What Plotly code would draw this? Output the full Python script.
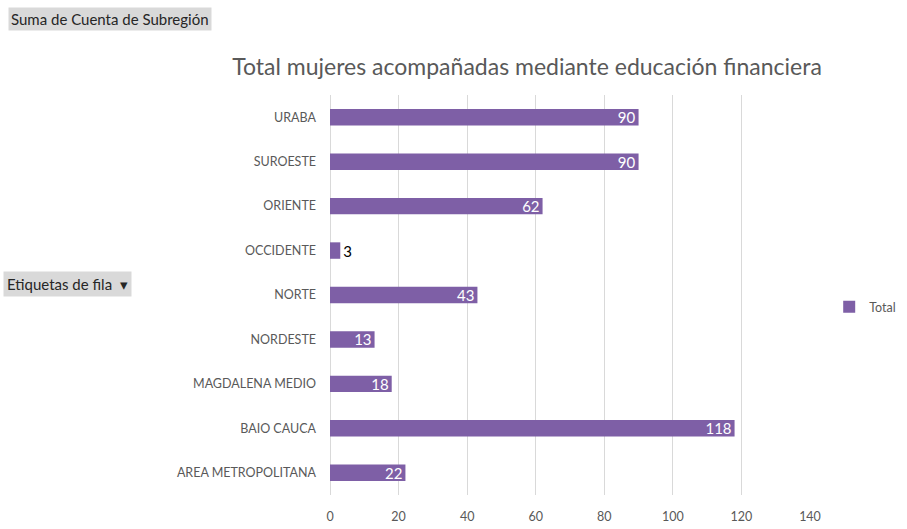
import plotly.graph_objects as go

categories = ["AREA METROPOLITANA", "BAIO CAUCA", "MAGDALENA MEDIO", "NORDESTE",
              "NORTE", "OCCIDENTE", "ORIENTE", "SUROESTE", "URABA"]
values = [22, 118, 18, 13, 43, 3, 62, 90, 90]
x_ticks = [0, 20, 40, 60, 80, 100, 120, 140]

bar_color = "#7E5FA6"
text_pos = ["outside" if v < 8 else "inside" for v in values]

fig = go.Figure()
fig.add_trace(go.Bar(
    y=categories, x=values, orientation="h", name="Total",
    marker=dict(color=bar_color, line=dict(width=0)),
    width=0.37,
    text=[str(v) for v in values],
    textposition=text_pos,
    textangle=0,
    insidetextanchor="end",
    insidetextfont=dict(color="white", size=15, family="Lato"),
    outsidetextfont=dict(color="black", size=15, family="Lato"),
    constraintext="none",
    cliponaxis=False,
    showlegend=True,
))

fig.update_layout(
    width=907, height=529,
    paper_bgcolor="white", plot_bgcolor="white",
    margin=dict(l=330, r=97, t=95, b=34, autoexpand=False),
    title=dict(text="Total mujeres acompañadas mediante educación financiera",
               x=527 / 907, xanchor="center", y=1 - 67 / 529, yanchor="middle",
               font=dict(family="Lato", size=23, color="#595959")),
    xaxis=dict(range=[0, 140], tickvals=x_ticks, showgrid=True, gridcolor="#D9D9D9",
               gridwidth=1, zeroline=True, zerolinecolor="#D9D9D9", zerolinewidth=1,
               tickfont=dict(family="Lato", size=12.5, color="#595959"),
               ticklabelstandoff=12, fixedrange=True),
    yaxis=dict(categoryorder="array", categoryarray=categories,
               tickfont=dict(family="Lato", size=12.5, color="#595959"),
               ticklabelstandoff=13, showgrid=False, zeroline=False),
    legend=dict(x=1.04, xanchor="left", y=0.47, yanchor="middle",
                font=dict(family="Lato", size=12.5, color="#595959"),
                itemwidth=30, bgcolor="rgba(0,0,0,0)"),
    annotations=[
        dict(text="Suma de Cuenta de Subregión", xref="paper", yref="paper",
             x=(8 - 330) / 480, y=1 + (95 - 19) / 400, xanchor="left", yanchor="middle",
             showarrow=False, bgcolor="#D9D9D9", borderpad=2,
             font=dict(family="Lato", size=15, color="#262626")),
        dict(text="Etiquetas de fila  ▾", xref="paper", yref="paper",
             x=(3 - 330) / 480, y=(495 - 284) / 400, xanchor="left", yanchor="middle",
             showarrow=False, bgcolor="#D9D9D9", borderpad=3,
             font=dict(family="Lato", size=15, color="#262626")),
    ],
)

fig.write_html("out.html", config={"displayModeBar": False},
               post_script="document.body.style.margin='0';")
